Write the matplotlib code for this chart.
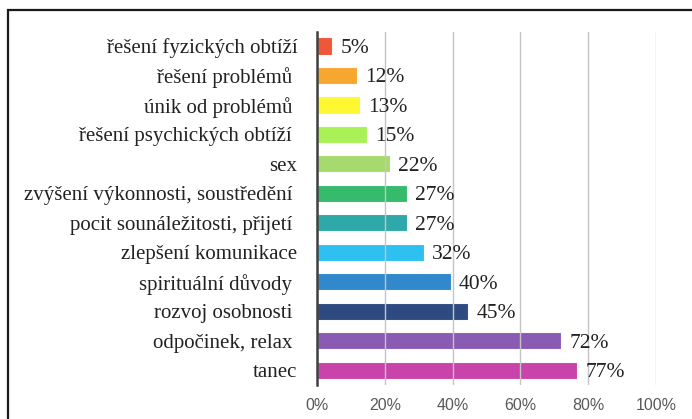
import matplotlib.pyplot as plt
import matplotlib.ticker as ticker
from matplotlib.patches import Rectangle

categories = [
    "řešení fyzických obtíží",
    "řešení problémů ",
    "únik od problémů ",
    "řešení psychických obtíží ",
    "sex",
    "zvýšení výkonnosti, soustředění ",
    "pocit sounáležitosti, přijetí ",
    "zlepšení komunikace",
    "spirituální důvody ",
    "rozvoj osobnosti ",
    "odpočinek, relax ",
    "tanec",
]
values = [5, 12, 13, 15, 22, 27, 27, 32, 40, 45, 72, 77]
bar_lengths = [4.5, 11.8, 12.8, 14.8, 21.6, 26.6, 26.6, 31.6, 39.4, 44.6, 72.0, 76.8]
colors = ["#F04E2E", "#F7A224", "#FFF726", "#A6F04E", "#A2D866", "#2BB864",
          "#22A3A3", "#22BDF0", "#2682C8", "#22407A", "#8452AE", "#C63AA6"]
ticks = [0, 20, 40, 60, 80, 100]

fig = plt.figure(figsize=(6.92, 4.19), dpi=100)
ax = fig.add_axes([0.458, 0.081, 0.49, 0.843])

ypos = list(range(len(categories)))
ax.barh(ypos, bar_lengths, height=0.58, color=colors, edgecolor="white",
        linewidth=0.8, alpha=0.95, zorder=2)
for y, v, b in zip(ypos, values, bar_lengths):
    ax.text(b + 2.4, y + 0.08, f"{v}%", va="center", ha="left",
            family="Liberation Serif", fontsize=15.5, color="#222222", zorder=4)

ax.set_xlim(0, 100)
ax.set_ylim(len(categories) - 0.5, -0.48)
ax.set_yticks(ypos)
ax.set_yticklabels(categories, family="Liberation Serif", fontsize=15, color="#222222")
ax.xaxis.set_major_locator(ticker.FixedLocator(ticks))
ax.xaxis.set_major_formatter(ticker.FuncFormatter(lambda x, p: f"{x:.0f}%"))
ax.tick_params(axis="x", length=0, labelsize=11.5, labelcolor="#595959", pad=9)
ax.tick_params(axis="y", length=0, pad=14)
for lbl in ax.get_xticklabels():
    lbl.set_family("Liberation Sans")

ax.grid(axis="x", color="#c4c4c4", linewidth=1, zorder=3)
ax.set_axisbelow(False)
for s in ["top", "right", "bottom"]:
    ax.spines[s].set_visible(False)
ax.spines["left"].set_color("#404040")
ax.spines["left"].set_linewidth(1.8)
ax.spines["left"].set_zorder(5)

# outer frame, cut at right and bottom edge
fig.patches.append(Rectangle((8 / 692, -0.1), 1.2, 1 - 10 / 419 + 0.1,
                             transform=fig.transFigure, fill=False,
                             edgecolor="#1a1a1a", linewidth=1.6))

fig.savefig("out.png", dpi=100)
